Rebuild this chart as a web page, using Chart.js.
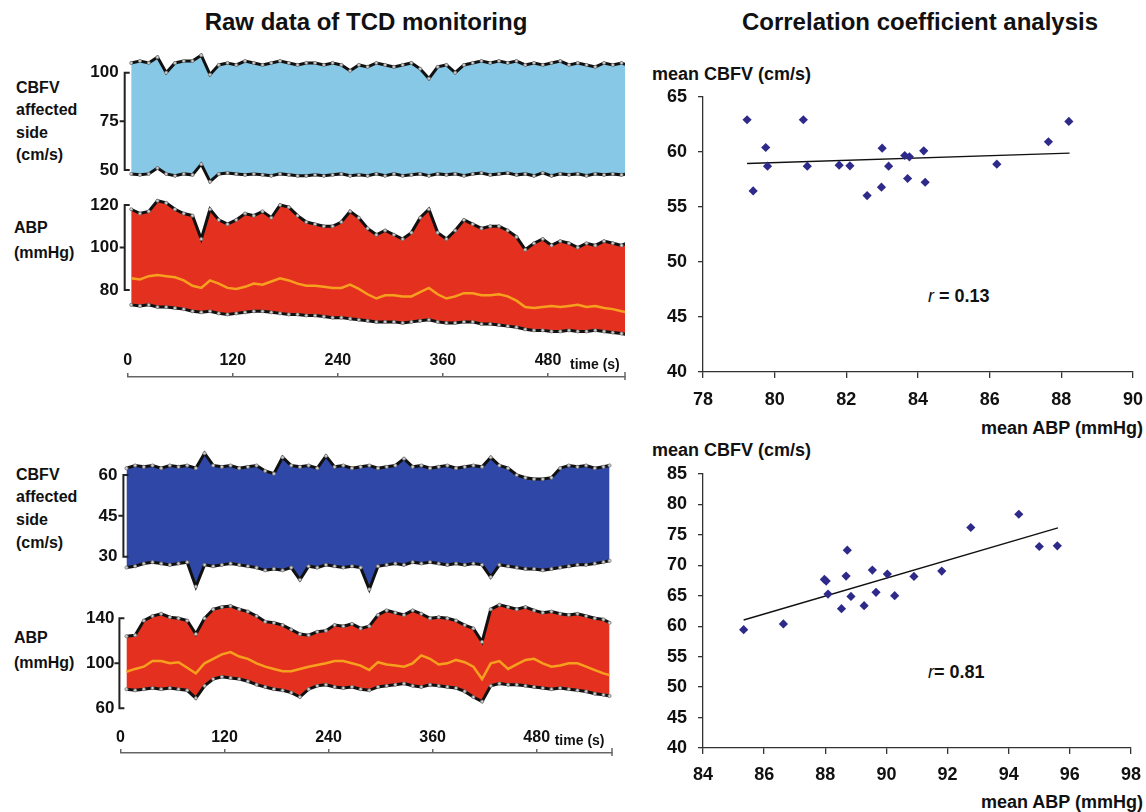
<!DOCTYPE html>
<html><head><meta charset="utf-8">
<script src="https://cdn.jsdelivr.net/npm/chart.js@4.4.1/dist/chart.umd.min.js"></script>
<style>
body{margin:0;background:#fff;width:1146px;height:812px;overflow:hidden;position:relative;font-family:"Liberation Sans",Arial,sans-serif;}
canvas{position:absolute;}
.t{position:absolute;font-weight:bold;color:#111;white-space:nowrap;}
</style></head><body>
<div class="t" style="left:366px;top:22px;font-size:24px;transform:translate(-50%,-50%);line-height:1">Raw data of TCD monitoring</div>
<div class="t" style="left:920px;top:22px;font-size:24px;transform:translate(-50%,-50%);line-height:1">Correlation coefficient analysis</div>
<div class="t" style="left:16px;top:76.5px;font-size:16px;line-height:22.5px">CBFV<br>affected<br>side<br>(cm/s)</div>
<div class="t" style="left:14px;top:214.5px;font-size:16px;line-height:25px">ABP<br>(mmHg)</div>
<div class="t" style="left:16px;top:463.5px;font-size:16px;line-height:22.7px">CBFV<br>affected<br>side<br>(cm/s)</div>
<div class="t" style="left:14px;top:624.5px;font-size:16px;line-height:25px">ABP<br>(mmHg)</div>
<div class="t" style="left:652px;top:74px;font-size:18px;transform:translateY(-50%);line-height:1">mean CBFV (cm/s)</div>
<div class="t" style="right:3px;top:428px;font-size:18px;transform:translateY(-50%);line-height:1">mean ABP (mmHg)</div>
<div class="t" style="left:652px;top:450px;font-size:18px;transform:translateY(-50%);line-height:1">mean CBFV (cm/s)</div>
<div class="t" style="right:3px;top:802px;font-size:18px;transform:translateY(-50%);line-height:1">mean ABP (mmHg)</div>
<div class="t" style="left:928px;top:296px;font-size:18px;transform:translateY(-50%);line-height:1"><i style="font-weight:normal">r</i> = 0.13</div>
<div class="t" style="left:928px;top:672px;font-size:18px;transform:translateY(-50%);line-height:1"><i style="font-weight:normal">r</i>= 0.81</div>
<script>
// ---------- DATA ----------
const timeTicks = [0, 120, 240, 360, 480];
const timeTop = [4,14,24,34,44,54,64,74,84,94,104,114,124,134,144,154,164,174,184,194,204,214,224,234,244,254,264,274,284,294,304,314,324,334,344,354,364,374,384,394,404,414,424,434,444,454,464,474,484,494,504,514,524,534,544,554,564,570];
const cbfvTopUpper = [105,106,105,108,100,105,106,106,109,99,104,105,104,106,105,104,105,106,105,104,105,105,104,105,104,101,104,103,105,104,103,104,105,102,97,103,104,100,104,105,106,105,106,105,106,104,105,104,105,106,104,105,104,103,105,104,105,104];
const cbfvTopLower = [48,47.5,48,51,48,47,48,47.5,53,44,48,48.5,48,47.5,48,47.5,47,48,47.5,47,47,47.5,47,47.5,48,47,47.5,47,48,47,48,47,47.5,48,47,48,47.5,48,47,48,48.5,47.5,48,48.5,47.5,48,47,48.5,47,48,47.5,48,47,48,47.5,48,47.5,48];
const abpTopUpper = [118,116,117,122,121,118,116,115,104,118,113,111,113,116,115,117,114,120,119,115,112,111,110,110,112,117,114,109,106,108,106,104,107,114,118,107,104,108,113,111,109,110,110,108,105,99,102,104,101,103,102,100,102,101,103,102,101,102];
const abpTopLower = [73,72.5,73,72,72,71.5,71,70,69.5,70,69,68.5,69,69.5,70,70,69.5,69,68.5,68.5,68,68,67.5,67,67,66.5,66,65.5,65,65,65,64.5,65,65.5,66,65,64.5,64.5,65,65,64,64,63.5,63,62.5,61.5,61,61,60.5,60.5,61,60.5,60.5,61,60.5,60,59.5,59];
const abpTopMean = [85.5,85,86.5,87,86.5,86,84.5,82,81,84.5,83,81,80.5,81.5,83,82.5,84,85.5,84.5,83,82,82,81.5,81,81,82.5,80.5,78,76,77.5,77.5,77,77,79,81,78,76,77,78.5,78.5,77.5,77.5,78,77,75,72,71.5,72,72.5,72,72.5,73,72,72.5,71.5,71,70,69.5];

const timeBottom = [7,17,27,37,47,57,67,77,87,97,107,117,127,137,147,157,167,177,187,197,207,217,227,237,247,257,267,277,287,297,307,317,327,337,347,357,367,377,387,397,407,417,427,437,447,457,467,477,487,497,507,517,527,537,547,557,564];
const cbfvBotUpper = [62.5,63.5,63,63.5,62.5,63.5,63,63.5,62.5,68,63.5,63,63.5,62.5,63,63.5,61.5,60.5,66.5,63.5,63,63.5,62.5,67,63,63.5,62.5,63,63.5,62.5,63,63.5,66,63,63.5,62.5,63,63.5,62.5,63,63.5,63,66.5,63.5,62.5,60,59,58.5,58.5,59,62.5,63.5,63,63.5,62.5,63,63.5];
const cbfvBotLower = [26,26.5,27.5,28,27.5,27,27.5,28,19,27,26.5,27,27.5,27,26.5,26,25,25.5,25,26,21.5,26.5,26,27,26.5,26,26.5,26,18,26.5,27,27.5,27,28,27.5,28,27.5,27,27.5,27,27.5,27,22.5,27,26.5,26,25.5,25.5,25,25.5,26,26.5,27,27,27.5,28,28.5];
const abpBotUpper = [124,125,138,142,144,141,140,138,126,140,148,150,151,148,146,142,137,136,134,130,126,125,128,129,134,133,135,131,133,143,147,145,143,147,144,140,141,140,138,134,131,119,148,152,150,148,150,147,145,146,144,143,144,142,140,139,136];
const abpBotLower = [77,76,77,78,77,78,77,76,69,80,86,88,87,86,84,81,79,77,76,74,70,77,80,81,79,78,79,77,76,79,80,81,82,80,79,81,80,79,78,75,70,66,80,82,81,81,80,79,78,77,78,77,76,75,73,72,71];
const abpBotMean = [92.5,95,97,102,102,100,101,96,91,100,104,108,110,106,104,100,97,95,93,93,95,97,98.5,100,102,102,100,98,94,101,99,98,97,100,107,104,99,100,103,101,97,86,100,102,95,99,103,104,100,97,98,100,100,97,94,91,89.5];

const cbfvTopTicks = [50, 75, 100];
const abpTopTicks = [80, 100, 120];
const cbfvBotTicks = [30, 45, 60];
const abpBotTicks = [60, 100, 140];

const s1X = [79.23,80.80,79.75,79.80,79.40,80.91,81.80,82.10,82.58,82.98,83.00,83.18,83.63,83.76,83.71,84.16,84.20,86.20,87.64,88.21];
const s1Y = [62.93,62.93,60.41,58.71,56.46,58.71,58.80,58.74,56.04,56.80,60.35,58.71,59.68,59.56,57.59,60.11,57.25,58.89,60.93,62.78];
const fit1X = [79.23, 88.23];
const fit1Y = [58.95, 59.90];
const s2X = [85.33,86.63,87.97,88.03,88.09,88.72,88.68,88.84,88.53,89.27,89.54,89.66,90.03,90.27,90.90,91.81,92.76,94.33,95.00,95.59];
const s2Y = [59.44,60.37,67.69,67.41,65.28,72.49,68.23,64.90,62.88,63.37,69.22,65.56,68.56,65.01,68.18,69.05,76.21,78.39,73.09,73.20];
const fit2X = [85.33, 95.61];
const fit2Y = [61.02, 76.15];

// ---------- HELPERS ----------
Chart.defaults.font.family = '"Liberation Sans", Arial, sans-serif';
const FONT = '"Liberation Sans", Arial, sans-serif';
const toXY = (xs, ys) => xs.map((x, i) => ({x: x, y: ys[i]}));
function yRange(v1, p1, v2, p2, top, bottom) {
  const k = (p2 - p1) / (v1 - v2);
  return {min: v2 - (bottom - p2) / k, max: v1 + (p1 - top) / k};
}
function makeCanvas(left, top, w, h) {
  const c = document.createElement('canvas');
  c.width = w; c.height = h;
  c.style.left = left + 'px'; c.style.top = top + 'px';
  c.style.width = w + 'px'; c.style.height = h + 'px';
  document.body.appendChild(c);
  return c;
}
const bracketPlugin = {
  id: 'bracket',
  afterDraw(chart, args, opts) {
    const s = chart.scales.y, ctx = chart.ctx;
    const ys = s.ticks.map(t => s.getPixelForValue(t.value));
    const x = chart.chartArea.left + opts.offset;
    const yTop = Math.min(...ys), yBot = Math.max(...ys);
    ctx.save();
    ctx.strokeStyle = '#222'; ctx.lineWidth = 2;
    ctx.beginPath();
    ctx.moveTo(x + 5, yTop); ctx.lineTo(x, yTop); ctx.lineTo(x, yBot); ctx.lineTo(x + 5, yBot);
    ys.forEach(y => { if (y !== yTop && y !== yBot) { ctx.moveTo(x - 5, y); ctx.lineTo(x, y); } });
    ctx.stroke();
    ctx.restore();
  }
};
const timeUnitPlugin = {
  id: 'timeUnit',
  afterDraw(chart, args, opts) {
    const s = chart.scales.x, ctx = chart.ctx;
    ctx.save();
    ctx.font = 'bold 14px ' + FONT;
    ctx.fillStyle = '#111'; ctx.textBaseline = 'middle'; ctx.textAlign = 'left';
    ctx.fillText('time (s)', s.getPixelForValue(480) + opts.dx, opts.y);
    const xe = s.getPixelForValue(s.max);
    ctx.strokeStyle = '#666'; ctx.lineWidth = 1.5;
    ctx.beginPath(); ctx.moveTo(xe, s.bottom - 5); ctx.lineTo(xe, s.bottom + 3); ctx.stroke();
    ctx.restore();
  }
};
function envelope(xs, ys, extra) {
  return Object.assign({
    data: toXY(xs, ys), borderColor: '#111', borderWidth: 3,
    pointRadius: 1.6, pointBackgroundColor: '#d0d0d0', pointBorderColor: '#777', pointBorderWidth: 0.8,
    fill: false, tension: 0
  }, extra || {});
}
function meanLine(xs, ys) {
  return {data: toXY(xs, ys), borderColor: '#F7A01E', borderWidth: 2.5, pointRadius: 0, fill: false, order: 0};
}
function bandChart(o) {
  const c = makeCanvas(0, o.top, 640, o.height);
  const r = yRange(o.ref[0], o.ref[1] - o.top, o.ref[2], o.ref[3] - o.top, 0, o.height);
  return new Chart(c, {
    type: 'line',
    data: {datasets: o.datasets},
    options: {
      responsive: false, animation: false, devicePixelRatio: 1, events: [],
      layout: {padding: {left: 0, right: 640 - o.areaRight, top: 0, bottom: 0}, autoPadding: false},
      plugins: {legend: {display: false}, tooltip: {enabled: false}, bracket: {offset: o.bracketOffset}},
      scales: {
        x: {type: 'linear', display: false, min: 0, max: o.xMax},
        y: {
          type: 'linear', min: r.min, max: r.max,
          afterBuildTicks: s => { s.ticks = o.yTicks.map(v => ({value: v})); },
          afterFit: s => { s.width = o.areaLeft; s.paddingTop = 0; s.paddingBottom = 0; },
          grid: {display: false, drawTicks: false}, border: {display: false},
          ticks: {padding: o.tickPad, color: '#111', font: {size: 17, weight: 'bold'}}
        }
      }
    },
    plugins: [bracketPlugin]
  });
}
function timeAxis(o) {
  const c = makeCanvas(0, o.top, 640, o.height);
  return new Chart(c, {
    type: 'line',
    data: {datasets: []},
    options: {
      responsive: false, animation: false, devicePixelRatio: 1, events: [],
      layout: {padding: {left: o.areaLeft, right: 640 - o.areaRight, top: 0, bottom: 0}, autoPadding: false},
      plugins: {legend: {display: false}, tooltip: {enabled: false}, timeUnit: {dx: o.unitDx, y: o.unitY}},
      scales: {
        x: {
          type: 'linear', position: 'top', min: 0, max: o.xMax,
          afterBuildTicks: s => { s.ticks = timeTicks.map(v => ({value: v})); },
          afterFit: s => { s.height = o.axisH; s.paddingLeft = 0; s.paddingRight = 0; },
          grid: {display: true, drawOnChartArea: false, drawTicks: true, tickLength: 4, color: '#666', lineWidth: 1.5},
          border: {display: true, color: '#666', width: 1.5},
          ticks: {padding: o.pad, color: '#111', font: {size: 16, weight: 'bold'}, maxRotation: 0, autoSkip: false}
        },
        y: {display: false}
      }
    },
    plugins: [timeUnitPlugin]
  });
}
function scatterChart(o) {
  const c = makeCanvas(640, o.top, 506, o.height);
  const axisFont = {size: 18, weight: 'bold'};
  return new Chart(c, {
    type: 'scatter',
    data: {datasets: [
      {type: 'line', data: toXY(o.fx, o.fy), borderColor: '#111', borderWidth: 1.4, pointRadius: 0, fill: false, order: 1},
      {type: 'scatter', data: toXY(o.xs, o.ys), pointStyle: 'rectRot', pointRadius: 4.6,
       backgroundColor: '#2E2A8A', borderColor: '#2E2A8A', borderWidth: 0, order: 0}
    ]},
    options: {
      responsive: false, animation: false, devicePixelRatio: 1, events: [],
      layout: {padding: {left: 0, right: o.padR, top: o.padT, bottom: 0}, autoPadding: false},
      plugins: {legend: {display: false}, tooltip: {enabled: false}},
      scales: {
        x: {
          type: 'linear', min: o.xmin, max: o.xmax,
          ticks: {stepSize: 2, padding: o.xpad, color: '#111', font: axisFont, maxRotation: 0},
          grid: {drawOnChartArea: false, tickLength: 6, color: '#333', lineWidth: 1.3},
          border: {color: '#333', width: 1.3},
          afterFit: s => { s.height = o.xh; s.paddingLeft = 0; s.paddingRight = 0; }
        },
        y: {
          type: 'linear', min: o.ymin, max: o.ymax,
          ticks: {stepSize: 5, padding: 11, color: '#111', font: axisFont},
          grid: {drawOnChartArea: false, tickLength: 5, color: '#333', lineWidth: 1.3},
          border: {color: '#333', width: 1.3},
          afterFit: s => { s.width = 63; s.paddingTop = 0; s.paddingBottom = 0; }
        }
      }
    }
  });
}

// ---------- LEFT: raw data ----------
const TOP_X0 = 127.7, TOP_RIGHT = 625, TOP_XMAX = (TOP_RIGHT - TOP_X0) / ((548 - TOP_X0) / 480);
const BOT_X0 = 120.4, BOT_RIGHT = 612, BOT_XMAX = (BOT_RIGHT - BOT_X0) / ((536.7 - BOT_X0) / 480);

bandChart({top: 40, height: 150, areaLeft: TOP_X0, areaRight: TOP_RIGHT, xMax: TOP_XMAX,
  ref: [100, 72.7, 50, 170], yTicks: cbfvTopTicks, tickPad: 9, bracketOffset: -3,
  datasets: [envelope(timeTop, cbfvTopLower, {order: 1}),
             envelope(timeTop, cbfvTopUpper, {order: 2, fill: '-1', backgroundColor: '#86C8E6'})]});
bandChart({top: 190, height: 150, areaLeft: TOP_X0, areaRight: TOP_RIGHT, xMax: TOP_XMAX,
  ref: [120, 205, 80, 290], yTicks: abpTopTicks, tickPad: 9, bracketOffset: -3,
  datasets: [envelope(timeTop, abpTopLower, {order: 1}),
             envelope(timeTop, abpTopUpper, {order: 2, fill: '-1', backgroundColor: '#E4311F'}),
             meanLine(timeTop, abpTopMean)]});
timeAxis({top: 330, height: 60, areaLeft: TOP_X0, areaRight: TOP_RIGHT, xMax: TOP_XMAX, axisH: 47, pad: 2.4, unitDx: 22, unitY: 35});

bandChart({top: 445, height: 150, areaLeft: BOT_X0, areaRight: BOT_RIGHT, xMax: BOT_XMAX,
  ref: [60, 475, 30, 556.7], yTicks: cbfvBotTicks, tickPad: 3, bracketOffset: 3,
  datasets: [envelope(timeBottom, cbfvBotLower, {order: 1}),
             envelope(timeBottom, cbfvBotUpper, {order: 2, fill: '-1', backgroundColor: '#2F47A6'})]});
bandChart({top: 595, height: 125, areaLeft: BOT_X0, areaRight: BOT_RIGHT, xMax: BOT_XMAX,
  ref: [140, 618.3, 60, 708.3], yTicks: abpBotTicks, tickPad: 6, bracketOffset: -1,
  datasets: [envelope(timeBottom, abpBotLower, {order: 1}),
             envelope(timeBottom, abpBotUpper, {order: 2, fill: '-1', backgroundColor: '#E4311F'}),
             meanLine(timeBottom, abpBotMean)]});
timeAxis({top: 700, height: 65, areaLeft: BOT_X0, areaRight: BOT_RIGHT, xMax: BOT_XMAX, axisH: 53, pad: 1.5, unitDx: 18, unitY: 41});

// ---------- RIGHT: correlation ----------
scatterChart({top: 85, height: 330, padT: 12, padR: 13, xh: 43, xpad: 11,
  xmin: 78, xmax: 90, ymin: 40, ymax: 65, xs: s1X, ys: s1Y, fx: fit1X, fy: fit1Y});
scatterChart({top: 460, height: 330, padT: 14, padR: 15, xh: 42, xpad: 10,
  xmin: 84, xmax: 98, ymin: 40, ymax: 85, xs: s2X, ys: s2Y, fx: fit2X, fy: fit2Y});
</script>
</body></html>
